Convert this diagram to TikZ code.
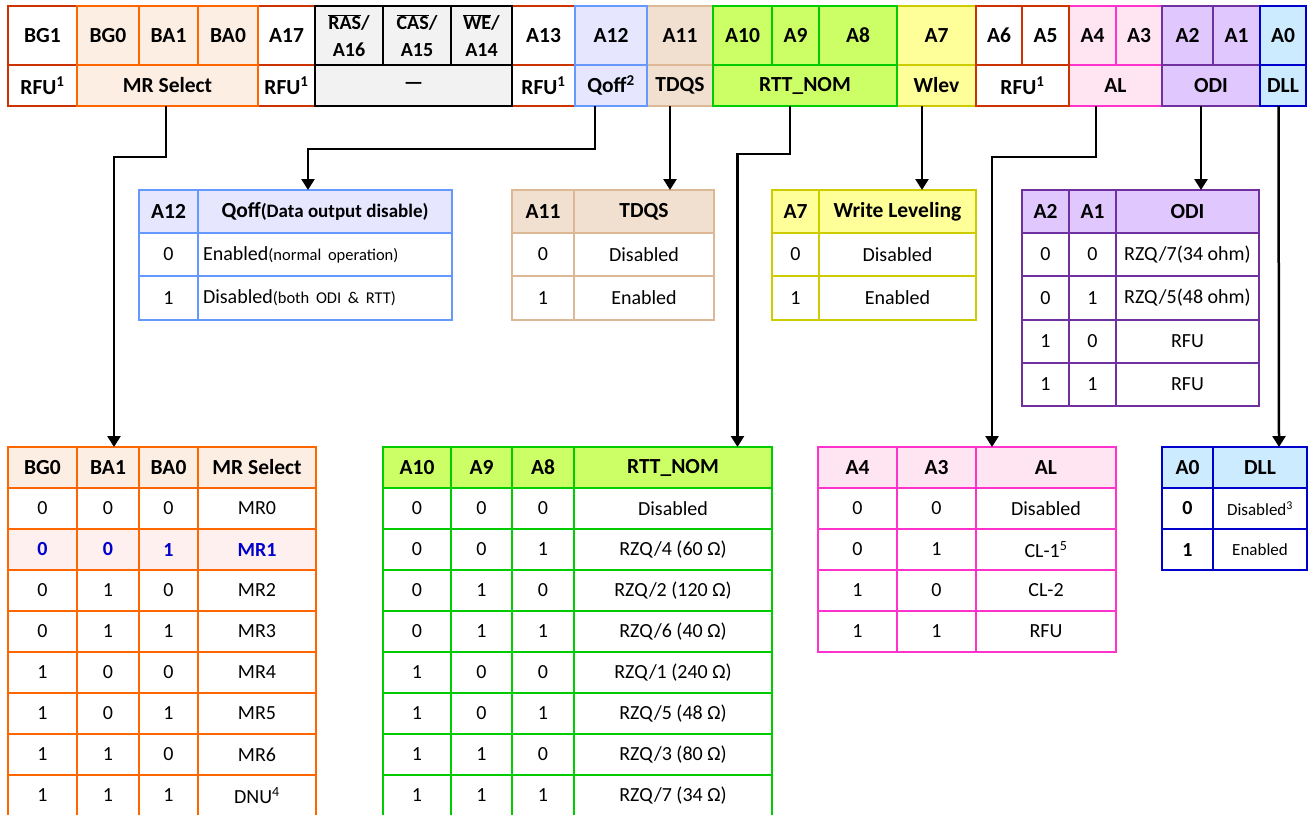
\documentclass[tikz,border=0pt]{standalone}
\usepackage{fontspec}
\setmainfont{Carlito}
\usetikzlibrary{arrows.meta}
\definecolor{dred}{HTML}{CC3300}
\definecolor{orng}{HTML}{FF6600}
\definecolor{peach}{HTML}{FDEEE4}
\definecolor{mrpink}{HTML}{FFF0F0}
\definecolor{mrblue}{HTML}{0000CC}
\definecolor{gfill}{HTML}{F2F2F2}
\definecolor{qbd}{HTML}{6699FF}
\definecolor{qfl}{HTML}{E6E6FF}
\definecolor{tbd}{HTML}{DDB894}
\definecolor{tfl}{HTML}{F1E0CF}
\definecolor{gbd}{HTML}{00CC00}
\definecolor{gfl}{HTML}{CCFF66}
\definecolor{ybd}{HTML}{CCCC00}
\definecolor{yfl}{HTML}{FFFF99}
\definecolor{pbd}{HTML}{FF33CC}
\definecolor{pfl}{HTML}{FFE4F2}
\definecolor{vbd}{HTML}{7030A0}
\definecolor{vfl}{HTML}{E0C8FF}
\definecolor{bbd}{HTML}{0000CC}
\definecolor{bfl}{HTML}{CCEBFF}
\tikzset{
  cellbase/.style={draw, line width=2pt, inner sep=0pt, outer sep=0pt, anchor=north west, fill=white, font=\fontsize{20}{24}\selectfont},
  hd/.style={font=\bfseries\fontsize{21.5}{25}\selectfont},
  twol/.style={align=center, font=\bfseries\fontsize{20}{27}\selectfont},
  lft/.style={align=left, text width=244pt, inner xsep=5pt},
  conn/.style={line width=2.5pt, -{Triangle[width=13pt,length=11pt]}},
  mrhead/.style={draw=orng, fill=peach, hd},
  mrbody/.style={draw=orng},
  mrhi/.style={draw=orng, fill=mrpink, text=mrblue, font=\bfseries\fontsize{20}{24}\selectfont},
  rtthead/.style={draw=gbd, fill=gfl, hd},
  rttbody/.style={draw=gbd},
  alhead/.style={draw=pbd, fill=pfl, hd},
  albody/.style={draw=pbd},
  dllhead/.style={draw=bbd, fill=bfl, hd},
  dllbody/.style={draw=bbd, font=\fontsize{17}{20}\selectfont},
  qhead/.style={draw=qbd, fill=qfl, hd},
  qbody/.style={draw=qbd},
  thead/.style={draw=tbd, fill=tfl, hd},
  tbody/.style={draw=tbd},
  whead/.style={draw=ybd, fill=yfl, hd},
  wbody/.style={draw=ybd},
  ohead/.style={draw=vbd, fill=vfl, hd},
  obody/.style={draw=vbd},
}
\newcommand\cellnode[7]{\node[cellbase,#1,minimum width=#5pt,minimum height=#6pt] (#2) at (#3,#4) {#7};}
\newcommand\tabrow[5]{\foreach \xa/\xb/\tx [count=\ci] in {#5}{\node[cellbase,#1,minimum width=\xb-\xa,minimum height=#4pt] (#2-\ci) at (\xa,#3) {\tx};}}
\begin{document}
\begin{tikzpicture}[x=1pt,y=-1pt]
\useasboundingbox (0,0) rectangle (1308,814);
% ---------- top register bar ----------
\cellnode{hd,draw=dred}{bg1}{8}{6}{69}{59}{BG1}
\cellnode{hd,draw=dred}{rfua}{8}{65}{69}{41}{RFU\textsuperscript{1}}
\cellnode{hd,draw=dred}{a17}{258}{6}{57}{59}{A17}
\cellnode{hd,draw=dred}{rfub}{258}{65}{57}{41}{RFU\textsuperscript{1}}
\cellnode{hd,draw=orng,fill=peach}{bg0}{77}{6}{62}{59}{BG0}
\cellnode{hd,draw=orng,fill=peach}{ba1}{139}{6}{59}{59}{BA1}
\cellnode{hd,draw=orng,fill=peach}{ba0}{198}{6}{60}{59}{BA0}
\cellnode{hd,draw=orng,fill=peach}{mrsel}{77}{65}{181}{41}{MR Select}
\cellnode{hd,draw=dred}{a13}{512}{6}{63}{59}{A13}
\cellnode{hd,draw=dred}{rfuc}{512}{65}{63}{41}{RFU\textsuperscript{1}}
\cellnode{twol,draw=black,fill=gfill}{ras}{315}{6}{68}{59}{$\overline{\mbox{RAS}}$/\\A16}
\cellnode{twol,draw=black,fill=gfill}{cas}{383}{6}{68}{59}{$\overline{\mbox{CAS}}$/\\A15}
\cellnode{twol,draw=black,fill=gfill}{we}{451}{6}{61}{59}{$\overline{\mbox{WE}}$/\\A14}
\cellnode{hd,draw=black,fill=gfill}{dash}{315}{65}{197}{41}{—}
\cellnode{hd,draw=tbd,fill=tfl}{a11}{647}{6}{66}{59}{A11}
\cellnode{hd,draw=tbd,fill=tfl}{tdqs}{647}{65}{66}{41}{TDQS}
\cellnode{hd,draw=qbd,fill=qfl}{a12}{575}{6}{72}{59}{A12}
\cellnode{hd,draw=qbd,fill=qfl}{qoff}{575}{65}{72}{41}{Qoff\textsuperscript{2}}
\cellnode{hd,draw=ybd,fill=yfl}{a7}{897}{6}{79}{59}{A7}
\cellnode{hd,draw=ybd,fill=yfl}{wlev}{897}{65}{79}{41}{Wlev}
\cellnode{hd,draw=gbd,fill=gfl}{a10}{713}{6}{59}{59}{A10}
\cellnode{hd,draw=gbd,fill=gfl}{a9}{772}{6}{47}{59}{A9}
\cellnode{hd,draw=gbd,fill=gfl}{a8}{819}{6}{78}{59}{A8}
\cellnode{hd,draw=gbd,fill=gfl}{rttnom}{713}{65}{184}{41}{RTT\_NOM}
\cellnode{hd,draw=pbd,fill=pfl}{a4}{1069}{6}{47}{59}{A4}
\cellnode{hd,draw=pbd,fill=pfl}{a3}{1116}{6}{46}{59}{A3}
\cellnode{hd,draw=pbd,fill=pfl}{al}{1069}{65}{93}{41}{AL}
\cellnode{hd,draw=dred}{a6}{976}{6}{46}{59}{A6}
\cellnode{hd,draw=dred}{a5}{1022}{6}{47}{59}{A5}
\cellnode{hd,draw=dred}{rfud}{976}{65}{93}{41}{RFU\textsuperscript{1}}
\cellnode{hd,draw=vbd,fill=vfl}{a2}{1162}{6}{51}{59}{A2}
\cellnode{hd,draw=vbd,fill=vfl}{a1}{1213}{6}{47}{59}{A1}
\cellnode{hd,draw=vbd,fill=vfl}{odi}{1162}{65}{98}{41}{ODI}
\cellnode{hd,draw=bbd,fill=bfl}{a0}{1260}{6}{46}{59}{A0}
\cellnode{hd,draw=bbd,fill=bfl}{dll}{1260}{65}{46}{41}{DLL}
% ---------- Qoff table ----------
\tabrow{qhead}{qfh}{190}{43}{139/198/A12,198/452/{Qoff{\fontsize{19}{22}\selectfont(Data output disable)}}}
\cellnode{qbody}{qf1-1}{139}{233}{59}{43}{0}
\cellnode{qbody,lft}{qf1-2}{198}{233}{254}{43}{Enabled{\fontsize{16.5}{19}\selectfont(normal operation)}}
\cellnode{qbody}{qf2-1}{139}{276}{59}{44}{1}
\cellnode{qbody,lft}{qf2-2}{198}{276}{254}{44}{Disabled{\fontsize{16.5}{19}\selectfont(both ODI \& RTT)}}
% ---------- TDQS table ----------
\tabrow{thead}{tdh}{190}{43}{512/574/A11,574/714/TDQS}
\tabrow{tbody}{td1}{233}{43}{512/574/0,574/714/Disabled}
\tabrow{tbody}{td2}{276}{44}{512/574/1,574/714/Enabled}
% ---------- Write leveling table ----------
\tabrow{whead}{wlh}{190}{43}{772/819/A7,819/976/Write Leveling}
\tabrow{wbody}{wl1}{233}{43}{772/819/0,819/976/Disabled}
\tabrow{wbody}{wl2}{276}{44}{772/819/1,819/976/Enabled}
% ---------- ODI table ----------
\tabrow{ohead}{odh}{190}{43}{1022/1069/A2,1069/1116/A1,1116/1259/ODI}
\tabrow{obody}{od1}{233}{43}{1022/1069/0,1069/1116/0,1116/1259/{RZQ/7(34 ohm)}}
\tabrow{obody}{od2}{276}{44}{1022/1069/0,1069/1116/1,1116/1259/{RZQ/5(48 ohm)}}
\tabrow{obody}{od3}{320}{43}{1022/1069/1,1069/1116/0,1116/1259/RFU}
\tabrow{obody}{od4}{363}{43}{1022/1069/1,1069/1116/1,1116/1259/RFU}
% ---------- MR select table ----------
\tabrow{mrhead}{mrh}{447}{41}{8/77/BG0,77/139/BA1,139/198/BA0,198/316/MR Select}
\tabrow{mrbody}{mr1}{488}{41}{8/77/0,77/139/0,139/198/0,198/316/MR0}
\tabrow{mrhi}{mr2}{529}{41}{8/77/0,77/139/0,139/198/1,198/316/MR1}
\tabrow{mrbody}{mr3}{570}{41}{8/77/0,77/139/1,139/198/0,198/316/MR2}
\tabrow{mrbody}{mr4}{611}{41}{8/77/0,77/139/1,139/198/1,198/316/MR3}
\tabrow{mrbody}{mr5}{652}{41}{8/77/1,77/139/0,139/198/0,198/316/MR4}
\tabrow{mrbody}{mr6}{693}{41}{8/77/1,77/139/0,139/198/1,198/316/MR5}
\tabrow{mrbody}{mr7}{734}{41}{8/77/1,77/139/1,139/198/0,198/316/MR6}
\tabrow{mrbody}{mr8}{775}{41}{8/77/1,77/139/1,139/198/1,198/316/{DNU\textsuperscript{4}}}
% ---------- RTT_NOM table ----------
\tabrow{rtthead}{rth}{447}{41}{383/451/A10,451/512/A9,512/574/A8,574/772/RTT\_NOM}
\tabrow{rttbody}{rt1}{488}{41}{383/451/0,451/512/0,512/574/0,574/772/Disabled}
\tabrow{rttbody}{rt2}{529}{41}{383/451/0,451/512/0,512/574/1,574/772/{RZQ/4 (60 Ω)}}
\tabrow{rttbody}{rt3}{570}{41}{383/451/0,451/512/1,512/574/0,574/772/{RZQ/2 (120 Ω)}}
\tabrow{rttbody}{rt4}{611}{41}{383/451/0,451/512/1,512/574/1,574/772/{RZQ/6 (40 Ω)}}
\tabrow{rttbody}{rt5}{652}{41}{383/451/1,451/512/0,512/574/0,574/772/{RZQ/1 (240 Ω)}}
\tabrow{rttbody}{rt6}{693}{41}{383/451/1,451/512/0,512/574/1,574/772/{RZQ/5 (48 Ω)}}
\tabrow{rttbody}{rt7}{734}{41}{383/451/1,451/512/1,512/574/0,574/772/{RZQ/3 (80 Ω)}}
\tabrow{rttbody}{rt8}{775}{41}{383/451/1,451/512/1,512/574/1,574/772/{RZQ/7 (34 Ω)}}
% ---------- AL table ----------
\tabrow{alhead}{alh}{447}{41}{818/897/A4,897/976/A3,976/1116/AL}
\tabrow{albody}{al1}{488}{41}{818/897/0,897/976/0,976/1116/Disabled}
\tabrow{albody}{al2}{529}{41}{818/897/0,897/976/1,976/1116/{CL-1\textsuperscript{5}}}
\tabrow{albody}{al3}{570}{41}{818/897/1,897/976/0,976/1116/CL-2}
\tabrow{albody}{al4}{611}{41}{818/897/1,897/976/1,976/1116/RFU}
% ---------- DLL table ----------
\tabrow{dllhead}{dlh}{447}{41}{1162/1213/A0,1213/1307/DLL}
\cellnode{dllbody,font=\bfseries\fontsize{20}{24}\selectfont}{dl1-1}{1162}{488}{51}{41}{0}
\cellnode{dllbody}{dl1-2}{1213}{488}{94}{41}{Disabled\textsuperscript{3}}
\cellnode{dllbody,font=\bfseries\fontsize{20}{24}\selectfont}{dl2-1}{1162}{529}{51}{41}{1}
\cellnode{dllbody}{dl2-2}{1213}{529}{94}{41}{Enabled}
% ---------- connectors ----------
\draw[conn] ([xshift=-1.5pt]mrsel.south) -- ++(0,51) -| ([xshift=6pt]mrh-2.north);
\draw[conn] ([xshift=-16pt]qoff.south) -- ++(0,43) -| ([xshift=-17pt]qfh-2.north);
\draw[conn] ([xshift=-10pt]tdqs.south) -- ([xshift=26pt]tdh-2.north);
\draw[conn] ([xshift=-15pt]rttnom.south) -- ++(0,48) -| ([xshift=64.5pt]rth-4.north);
\draw[conn] ([xshift=-14.5pt]wlev.south) -- ([xshift=24.5pt]wlh-2.north);
\draw[conn] ([xshift=-19.5pt]al.south) -- ++(0,51) -| ([xshift=-54pt]alh-3.north);
\draw[conn] ([xshift=-10pt]odi.south) -- ([xshift=13.5pt]odh-3.north);
\draw[conn] ([xshift=-4.5pt]dll.south) -- ([xshift=19pt]dlh-2.north);
\end{tikzpicture}
\end{document}
